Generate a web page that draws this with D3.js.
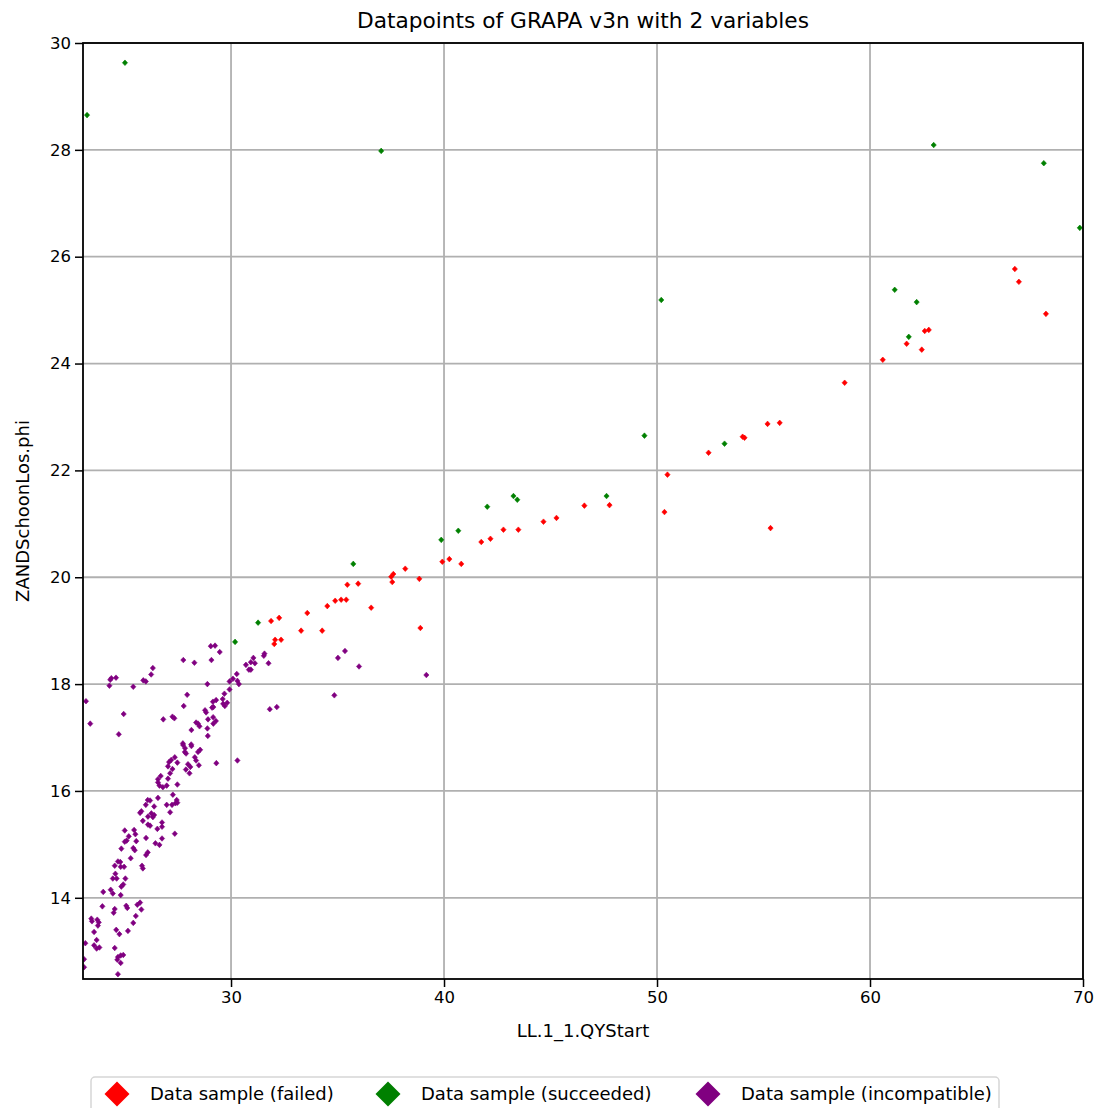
<!DOCTYPE html>
<html>
<head>
<meta charset="utf-8">
<script src="https://cdn.jsdelivr.net/npm/d3@7"></script>
<style>
  html, body { margin: 0; padding: 0; background: #fff; }
  svg { display: block; font-family: "DejaVu Sans", sans-serif; }
</style>
</head>
<body>
<svg id="chart" width="1099" height="1108"></svg>
<script>
// Samples as [LL.1_1.QYStart, ZANDSchoonLos.phi]
const failed = [
  [66.80,25.77],[66.99,25.53],[68.26,24.93],[61.72,24.37],[62.43,24.26],[62.57,24.61],
  [62.76,24.63],[60.60,24.07],[58.81,23.64],[55.19,22.87],[55.76,22.89],[54.02,22.63],
  [54.11,22.61],[52.42,22.33],[50.49,21.92],[50.35,21.22],[55.33,20.92],[47.77,21.35],
  [46.59,21.34],[45.28,21.11],[44.67,21.04],[42.79,20.89],[43.49,20.89],[42.18,20.72],
  [41.75,20.66],[39.92,20.29],[40.25,20.34],[40.81,20.25],[38.84,19.97],[38.18,20.16],
  [37.62,20.06],[37.52,20.01],[37.57,19.91],[35.97,19.88],[35.46,19.86],[36.58,19.43],
  [34.52,19.46],[34.89,19.56],[35.17,19.58],[35.41,19.58],[33.58,19.33],[33.29,19.00],
  [34.28,19.00],[38.89,19.05],[31.88,19.18],[32.26,19.24],[32.07,18.83],[32.03,18.75],
  [32.35,18.83]
];

const succeeded = [
  [23.24,28.65],[25.02,29.63],[37.05,27.98],[62.99,28.09],[68.16,27.75],[69.85,26.54],
  [50.20,25.19],[61.16,25.38],[62.19,25.15],[61.82,24.50],[49.41,22.65],[53.17,22.50],
  [43.26,21.52],[43.44,21.45],[47.63,21.52],[42.03,21.32],[40.67,20.87],[39.87,20.70],
  [35.74,20.25],[31.27,19.15],[30.19,18.79]
];

const incompatible = [
  [26.33,18.30],[26.25,18.18],[25.88,18.07],[26.00,18.05],[25.41,17.95],[24.38,18.11],
  [24.60,18.12],[24.33,18.08],[24.29,17.97],[23.19,17.68],[27.76,18.45],[28.28,18.40],
  [29.08,18.45],[29.05,18.71],[29.25,18.72],[29.47,18.60],[31.57,18.57],[31.54,18.53],
  [31.05,18.49],[30.93,18.41],[31.12,18.39],[31.76,18.39],[30.70,18.36],[30.84,18.27],
  [30.93,18.27],[30.27,18.19],[30.09,18.10],[30.30,18.06],[29.93,18.05],[30.37,18.00],
  [28.89,18.00],[29.93,17.90],[29.69,17.82],[27.94,17.80],[35.35,18.62],[35.02,18.49],
  [36.01,18.33],[39.17,18.17],[34.85,17.79],[29.61,17.72],[29.30,17.70],[29.15,17.67],
  [29.82,17.65],[29.63,17.63],[29.71,17.59],[29.17,17.57],[29.11,17.56],[27.78,17.59],
  [28.78,17.51],[28.83,17.47],[29.16,17.38],[28.92,17.34],[29.29,17.31],[29.17,17.26],
  [26.82,17.34],[27.25,17.39],[27.34,17.36],[28.36,17.28],[28.45,17.26],[28.52,17.21],
  [28.14,17.14],[28.89,17.17],[28.91,17.03],[27.74,16.89],[28.13,16.87],[31.82,17.53],
  [32.15,17.57],[24.96,17.44],[23.39,17.26],[24.73,17.06],[27.75,16.86],[27.84,16.80],
  [27.36,16.63],[27.19,16.58],[27.09,16.54],[27.04,16.46],[27.25,16.41],[27.48,16.53],
  [27.98,16.50],[27.88,16.40],[26.70,16.28],[26.57,16.22],[27.04,16.23],[28.14,16.84],
  [28.55,16.77],[28.45,16.73],[27.83,16.73],[27.89,16.70],[28.30,16.63],[28.36,16.57],
  [29.31,16.52],[30.30,16.57],[28.49,16.48],[28.09,16.45],[28.05,16.33],[27.14,16.33],
  [26.57,16.16],[26.64,16.10],[26.80,16.07],[26.98,16.10],[27.48,16.12],[27.27,15.93],
  [27.45,15.83],[27.48,15.78],[27.39,15.77],[26.98,15.74],[27.23,15.74],[26.57,15.87],
  [26.20,15.82],[26.39,15.71],[27.14,15.60],[26.26,15.58],[26.33,15.51],[26.76,15.41],
  [26.76,15.33],[26.54,15.29],[27.36,15.20],[26.76,15.11],[26.45,15.02],[26.64,14.99],
  [26.09,15.83],[26.00,15.74],[25.79,15.62],[25.73,15.59],[26.10,15.52],[26.39,15.55],
  [25.86,15.44],[26.10,15.37],[26.20,15.35],[25.01,15.26],[25.45,15.27],[25.51,15.19],
  [25.20,15.15],[25.55,15.06],[25.10,15.07],[25.01,15.05],[24.85,14.92],[25.41,14.93],
  [25.48,14.89],[26.01,15.12],[26.09,14.85],[26.01,14.80],[25.29,14.74],[24.69,14.68],
  [24.80,14.67],[24.54,14.60],[24.82,14.58],[24.98,14.58],[25.82,14.60],[25.86,14.55],
  [24.57,14.45],[24.45,14.36],[24.63,14.36],[25.04,14.36],[24.85,14.21],[24.94,14.25],
  [24.00,14.11],[24.35,14.15],[24.45,14.08],[24.82,14.05],[23.96,13.84],[24.54,13.79],
  [24.49,13.72],[25.08,13.85],[25.13,13.81],[25.60,13.87],[25.73,13.91],[25.79,13.78],
  [25.53,13.66],[25.41,13.53],[25.16,13.38],[24.61,13.40],[24.76,13.32],[23.44,13.61],
  [23.47,13.56],[23.72,13.59],[23.79,13.54],[23.75,13.48],[23.57,13.36],[23.69,13.21],
  [23.57,13.11],[23.69,13.05],[23.82,13.07],[23.16,13.15],[24.54,13.06],[23.10,12.85],
  [23.10,12.70],[24.69,12.89],[24.82,12.92],[24.94,12.93],[24.66,12.84],[24.82,12.78],
  [24.69,12.57]
];

const xTicks = [30, 40, 50, 60, 70];
const yTicks = [14, 16, 18, 20, 22, 24, 26, 28, 30];

const seriesNames = ["Data sample (failed)", "Data sample (succeeded)", "Data sample (incompatible)"];
const seriesColors = ["#ff0000", "#008000", "#800080"];

const svg = d3.select("#chart");
const margin = { left: 83, right: 1083, top: 43, bottom: 979 };

const x = d3.scaleLinear().domain([23.05, 70]).range([margin.left, margin.right]);
const y = d3.scaleLinear().domain([12.48, 30]).range([margin.bottom, margin.top]);

// Grid
const grid = svg.append("g");
grid.selectAll("line.gx").data(xTicks).join("line")
  .attr("x1", d => x(d)).attr("x2", d => x(d))
  .attr("y1", margin.top).attr("y2", margin.bottom)
  .attr("stroke", "#b0b0b0").attr("stroke-width", 1.8);
grid.selectAll("line.gy").data(yTicks).join("line")
  .attr("y1", d => y(d)).attr("y2", d => y(d))
  .attr("x1", margin.left).attr("x2", margin.right)
  .attr("stroke", "#b0b0b0").attr("stroke-width", 1.8);

// Diamond marker path
function diamond(w, h) {
  return `M0,${-h}L${w},0L0,${h}L${-w},0Z`;
}

const plot = svg.append("g");
const clipId = "plotclip";
svg.append("clipPath").attr("id", clipId).append("rect")
  .attr("x", margin.left).attr("y", margin.top)
  .attr("width", margin.right - margin.left).attr("height", margin.bottom - margin.top);
plot.attr("clip-path", `url(#${clipId})`);

[failed, succeeded, incompatible].forEach((pts, i) => {
  plot.append("g").selectAll("path").data(pts).join("path")
    .attr("d", diamond(2.6, 2.8))
    .attr("transform", d => `translate(${x(d[0])},${y(d[1])})`)
    .attr("fill", seriesColors[i])
    .attr("stroke", seriesColors[i]).attr("stroke-width", 0.6)
    .attr("stroke-linejoin", "round");
});

// Axes
const xAxis = d3.axisBottom(x).tickValues(xTicks).tickSize(8).tickPadding(4).tickFormat(d3.format("d"));
const yAxis = d3.axisLeft(y).tickValues(yTicks).tickSize(8).tickPadding(4).tickFormat(d3.format("d"));

const gx = svg.append("g").attr("transform", `translate(0,${margin.bottom})`).call(xAxis);
const gy = svg.append("g").attr("transform", `translate(${margin.left},0)`).call(yAxis);
[gx, gy].forEach(g => {
  g.select(".domain").remove();
  g.selectAll(".tick line").attr("stroke", "#000").attr("stroke-width", 1.5);
  g.selectAll(".tick text").attr("font-size", 16.5).attr("fill", "#000")
    .attr("font-family", "DejaVu Sans, sans-serif");
});

// Frame
svg.append("rect")
  .attr("x", margin.left).attr("y", margin.top)
  .attr("width", margin.right - margin.left).attr("height", margin.bottom - margin.top)
  .attr("fill", "none").attr("stroke", "#000").attr("stroke-width", 1.8);

// Titles
svg.append("text").attr("x", (margin.left + margin.right) / 2).attr("y", 28)
  .attr("text-anchor", "middle").attr("font-size", 21.7).attr("fill", "#000")
  .text("Datapoints of GRAPA v3n with 2 variables");
svg.append("text").attr("x", (margin.left + margin.right) / 2).attr("y", 1037)
  .attr("text-anchor", "middle").attr("font-size", 18).attr("fill", "#000")
  .text("LL.1_1.QYStart");
svg.append("text")
  .attr("transform", `translate(29,${(margin.top + margin.bottom) / 2}) rotate(-90)`)
  .attr("text-anchor", "middle").attr("font-size", 18).attr("fill", "#000")
  .text("ZANDSchoonLos.phi");

// Legend
const legend = svg.append("g");
legend.append("rect")
  .attr("x", 91).attr("y", 1077).attr("width", 908).attr("height", 50)
  .attr("rx", 4).attr("fill", "#fff").attr("stroke", "#d6d6d6").attr("stroke-width", 1.5);
const legendX = [117, 388, 708];
seriesNames.forEach((name, i) => {
  legend.append("path")
    .attr("d", diamond(12.5, 12.5))
    .attr("transform", `translate(${legendX[i]},1094)`)
    .attr("fill", seriesColors[i]);
  legend.append("text")
    .attr("x", legendX[i] + 33).attr("y", 1100)
    .attr("font-size", 18).attr("fill", "#000")
    .text(name);
});
</script>
</body>
</html>
